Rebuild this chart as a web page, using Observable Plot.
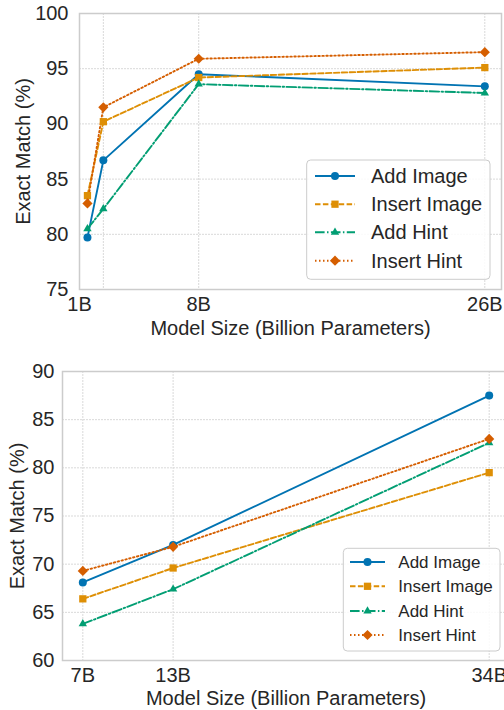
<!DOCTYPE html>
<html><head><meta charset="utf-8">
<script src="https://cdn.jsdelivr.net/npm/d3@7"></script>
<script src="https://cdn.jsdelivr.net/npm/@observablehq/plot@0.6"></script>
<style>
html,body{margin:0;padding:0;background:#fff;}
#wrap{position:relative;width:504px;height:710px;overflow:hidden;font-family:"Liberation Sans",Arial,sans-serif;}
#wrap > svg, #wrap > div{position:absolute;left:0;}
</style></head>
<body><div id="wrap"></div>
<script>
// ---- data: top panel ----
const topSizes = [1, 2, 8, 26];
const topAddImage    = [79.7, 86.7, 94.5, 93.4];
const topInsertImage = [83.5, 90.2, 94.2, 95.1];
const topAddHint     = [80.5, 82.3, 93.6, 92.8];
const topInsertHint  = [82.8, 91.5, 95.9, 96.5];
const topTickPositions = [0.5, 8, 26];
const topTickLabels = ["1B", "8B", "26B"];
const topGridX = [2, 8, 26];
const topYTicks = [75, 80, 85, 90, 95, 100];

// ---- data: bottom panel ----
const botSizes = [7, 13, 34];
const botAddImage    = [68.1, 72.0, 87.5];
const botInsertImage = [66.4, 69.6, 79.5];
const botAddHint     = [63.8, 67.4, 82.6];
const botInsertHint  = [69.3, 71.8, 83.0];
const botTickLabels = ["7B", "13B", "34B"];
const botYTicks = [60, 65, 70, 75, 80, 85, 90];

const seriesNames = ["Add Image", "Insert Image", "Add Hint", "Insert Hint"];
const seriesColors = ["#0173b2", "#de8f05", "#029e73", "#d55e00"];
const seriesDash = [null, "5.5,2.4", "9.6,2.4,1.5,2.4", "1.5,2.5"];
const seriesSymbols = ["circle", "square", "triangle", "diamond2"];
const seriesR = [4.0, 4.1, 3.1, 4.6];

const xLabel = "Model Size (Billion Parameters)";
const yLabel = "Exact Match (%)";
const textColor = "#262626";

function rows(sizes, arrays) {
  const out = [];
  arrays.forEach((arr, s) => arr.forEach((v, i) => out.push({size: sizes[i], value: v, series: seriesNames[s]})));
  return out;
}

function seriesMarks(data) {
  const m = [];
  seriesNames.forEach((name, i) => {
    const d = data.filter(r => r.series === name);
    m.push(Plot.line(d, {x: "size", y: "value", stroke: seriesColors[i], strokeWidth: 1.9,
      strokeDasharray: seriesDash[i] || undefined}));
  });
  seriesNames.forEach((name, i) => {
    const d = data.filter(r => r.series === name);
    m.push(Plot.dot(d, {x: "size", y: "value", fill: seriesColors[i], stroke: "none",
      symbol: seriesSymbols[i], r: seriesR[i]}));
  });
  return m;
}

const gridStyle = {stroke: "#d9d9d9", strokeOpacity: 1, strokeWidth: 1, strokeDasharray: "2,1"};
const wrap = document.getElementById("wrap");
const baseStyle = {fontFamily: "Liberation Sans, Arial, sans-serif", fontSize: "20px", color: textColor,
  background: "transparent", overflow: "visible", maxWidth: "none"};

// ---- top chart ----
const topData = rows(topSizes, [topAddImage, topInsertImage, topAddHint, topInsertHint]);
const topChart = Plot.plot({
  width: 504, height: 340,
  marginLeft: 79, marginRight: 3, marginTop: 13, marginBottom: 51,
  style: baseStyle,
  x: {domain: [0.5, 27.05]},
  y: {domain: [75, 100]},
  marks: [
    Plot.gridY(topYTicks.slice(1, -1), gridStyle),
    Plot.gridX(topGridX, gridStyle),
    Plot.frame({stroke: "#cccccc", strokeWidth: 1.5}),
    ...seriesMarks(topData),
    Plot.axisY(topYTicks, {tickSize: 0, tickPadding: 11, label: null, fontSize: 20, fill: textColor}),
    Plot.axisX(topTickPositions, {tickSize: 0, tickPadding: 7, label: null, fontSize: 20, fill: textColor,
      tickFormat: (d) => topTickLabels[topTickPositions.indexOf(d)]}),
    Plot.text([yLabel], {text: d => d, frameAnchor: "left", textAnchor: "middle", lineAnchor: "middle", rotate: -90, dx: -56, fontSize: 20, fill: textColor}),
    Plot.text([xLabel], {text: d => d, frameAnchor: "bottom", textAnchor: "middle", lineAnchor: "middle", dy: 39, fontSize: 20, fill: textColor})
  ]
});
topChart.style.top = "0px";
topChart.style.maxWidth = "none";
wrap.appendChild(topChart);

// ---- bottom chart ----
const botData = rows(botSizes, [botAddImage, botInsertImage, botAddHint, botInsertHint]);
const botChart = Plot.plot({
  width: 512, height: 370,
  marginLeft: 62, marginRight: 3, marginTop: 31, marginBottom: 50,
  style: baseStyle,
  x: {domain: [5.65, 35.35]},
  y: {domain: [60, 90]},
  marks: [
    Plot.gridY(botYTicks.slice(1, -1), gridStyle),
    Plot.gridX(botSizes, gridStyle),
    Plot.frame({stroke: "#cccccc", strokeWidth: 1.5}),
    ...seriesMarks(botData),
    Plot.axisY(botYTicks, {tickSize: 0, tickPadding: 8, label: null, fontSize: 20, fill: textColor}),
    Plot.axisX(botSizes, {tickSize: 0, tickPadding: 7, label: null, fontSize: 20, fill: textColor,
      tickFormat: (d) => botTickLabels[botSizes.indexOf(d)]}),
    Plot.text([yLabel], {text: d => d, frameAnchor: "left", textAnchor: "middle", lineAnchor: "middle", rotate: -90, dx: -45, fontSize: 20, fill: textColor}),
    Plot.text([xLabel], {text: d => d, frameAnchor: "bottom", textAnchor: "middle", lineAnchor: "middle", dy: 38, fontSize: 20, fill: textColor})
  ]
});
botChart.style.top = "340px";
botChart.style.maxWidth = "none";
botChart.style.width = "512px";
botChart.style.height = "370px";
wrap.appendChild(botChart);

// ---- legends ----
function legend(box, rowsY, lineX0, lineX1, textX, fontSize) {
  const svg = d3.create("svg").attr("width", 504).attr("height", 710)
    .style("position", "absolute").style("left", "0px").style("top", "0px").style("overflow", "visible");
  svg.append("rect").attr("x", box[0]).attr("y", box[1]).attr("width", box[2] - box[0]).attr("height", box[3] - box[1])
    .attr("rx", 4).attr("fill", "#fff").attr("fill-opacity", 0.85).attr("stroke", "#cccccc").attr("stroke-width", 1);
  const symMap = {circle: d3.symbolCircle, square: d3.symbolSquare, triangle: d3.symbolTriangle, diamond2: d3.symbolDiamond2};
  seriesNames.forEach((name, i) => {
    const y = rowsY[i];
    const g = svg.append("g");
    g.append("line").attr("x1", lineX0).attr("x2", lineX1).attr("y1", y).attr("y2", y)
      .attr("stroke", seriesColors[i]).attr("stroke-width", 1.9).attr("stroke-dasharray", seriesDash[i]);
    g.append("path").attr("transform", `translate(${(lineX0 + lineX1) / 2},${y})`)
      .attr("d", d3.symbol(symMap[seriesSymbols[i]], Math.PI * seriesR[i] * seriesR[i])())
      .attr("fill", seriesColors[i]);
    g.append("text").attr("x", textX).attr("y", y).attr("dy", "0.35em").attr("fill", textColor)
      .style("font-family", "Liberation Sans, Arial, sans-serif").style("font-size", fontSize + "px").text(name);
  });
  wrap.appendChild(svg.node());
}
legend([306.7, 160, 490, 279.3], [176, 204.2, 232.3, 260.7], 315, 355, 371, 20);
legend([343.3, 548.3, 500, 651], [562, 586.3, 611, 635], 350, 385, 398.3, 17);
</script></body></html>
